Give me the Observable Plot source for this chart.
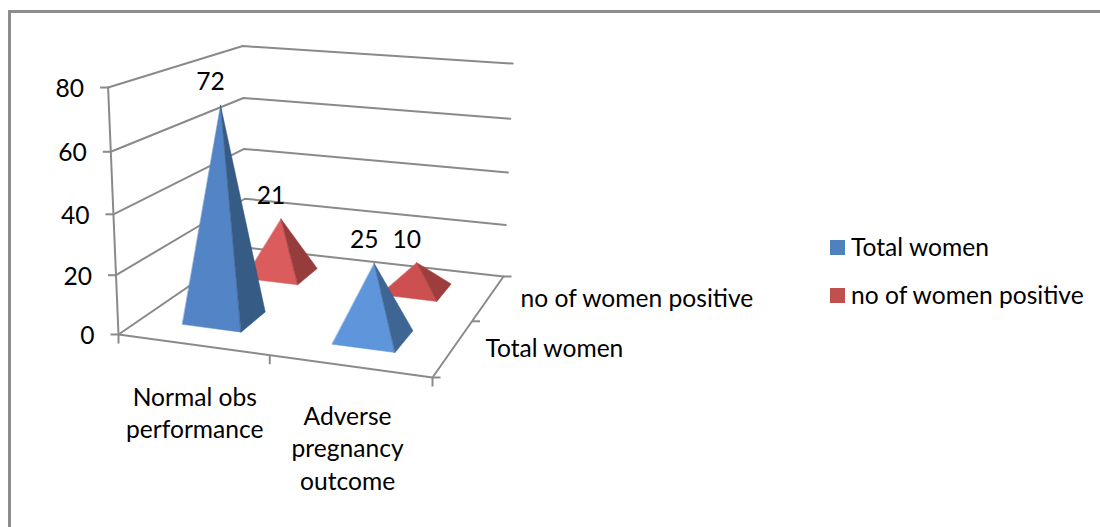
<!DOCTYPE html>
<html>
<head>
<meta charset="utf-8">
<script src="https://cdn.jsdelivr.net/npm/d3@7"></script>
<script src="https://cdn.jsdelivr.net/npm/@observablehq/plot@0.6"></script>
<style>
  html, body { margin: 0; background: #fff; }
  #chart { position: relative; width: 1100px; height: 527px; overflow: hidden; font-family: Lato, sans-serif; color: #000; }
  #frame { position: absolute; left: 8px; top: 10px; right: -5px; bottom: -5px; border: 3px solid #8c8c8c; }
  #plot { position: absolute; left: 0; top: 0; }
  #legend { position: absolute; left: 830px; top: 223px; font-size: 24.6px; line-height: 48px; }
  #legend div { display: flex; align-items: center; white-space: nowrap; }
  #legend i { width: 15px; height: 15px; margin-right: 6px; display: block; }
</style>
</head>
<body>
<div id="chart">
  <div id="frame"></div>
  <div id="plot"></div>
  <div id="legend"></div>
</div>
<script>
// Values
const categories = ["Normal obs performance", "Adverse pregnancy outcome"];
const categoryLines = [["Normal obs", "performance"], ["Adverse", "pregnancy", "outcome"]];
const seriesNames = ["Total women", "no of women positive"];
const totalWomen = [72, 25];
const womenPositive = [21, 10];
const valueTicks = [0, 20, 40, 60, 80];
const valueMax = 80;

// Styling
const gridColor = "#8a8a8a";
const legendColors = ["#4F81BD", "#C0504D"];
const frontFaces = [["#5384C5", "#5F95DA"], ["#DA5C5C", "#CD5050"]];
const sideFaces = [["#365B85", "#3E6594"], ["#963C3C", "#9E3E3C"]];
const labelSize = 24.6;

// Camera: floor corners in plot units and the lift applied per full axis height
const floorCorners = [[118, 334], [432, 377], [503, 276], [245, 247]];
const lift = [-16, -251.5, -0.052];
const baseHalf = 0.2;
const baseCenter = 0.488;

const [[x0, y0], [x1, y1], [x2, y2], [x3, y3]] = floorCorners;
const den = (x1 - x2) * (y3 - y2) - (x3 - x2) * (y1 - y2);
const sx = x0 - x1 + x2 - x3, sy = y0 - y1 + y2 - y3;
const g = (sx * (y3 - y2) - (x3 - x2) * sy) / den;
const h = ((x1 - x2) * sy - sx * (y1 - y2)) / den;

// Perspective projection of (category position, series position, value)
function project(u, v, value) {
  const s = u / categories.length, t = v / seriesNames.length, q = value / valueMax;
  const X = (x1 - x0 + g * x1) * s + (x3 - x0 + h * x3) * t + x0;
  const Y = (y1 - y0 + g * y1) * s + (y3 - y0 + h * y3) * t + y0;
  const W = g * s + h * t + 1;
  return [(X + lift[0] * q) / (W + lift[2] * q), (Y + lift[1] * q) / (W + lift[2] * q)];
}

// Walls and floor
const grid = [];
valueTicks.forEach(tick => {
  [[0, 0], [0, 2], [2, 2]].forEach(([u, v]) => {
    const [x, y] = project(u, v, tick);
    grid.push({id: "grid" + tick, x, y});
  });
});
[[0, 0], [2, 0], [2, 2]].forEach(([u, v]) => {
  const [x, y] = project(u, v, 0);
  grid.push({id: "floor", x, y});
});
[0, valueMax].forEach(val => {
  const [x, y] = project(0, 0, val);
  grid.push({id: "valueAxis", x, y});
});

// Short tick marks, offset from their anchors along screen axes
const ticks = [];
valueTicks.forEach(tick => {
  const [x, y] = project(0, 0, tick);
  ticks.push({x1: x - 8, y1: y, x2: x, y2: y});
});
[0, 1, 2].forEach(u => {
  const [x, y] = project(u, 0, 0);
  ticks.push({x1: x, y1: y, x2: x, y2: y + 9});
});
[0, 1, 2].forEach(v => {
  const [x, y] = project(2, v, 0);
  ticks.push({x1: x, y1: y, x2: x + 8, y2: y});
});

// Pyramids, far row first so nearer ones overlap it
const faces = [];
const tops = [];
[womenPositive, totalWomen].forEach((values, row) => {
  const si = 1 - row;
  values.forEach((value, ci) => {
    const u = ci + baseCenter, v = si + 0.5;
    const fl = project(u - baseHalf, v - baseHalf, 0);
    const fr = project(u + baseHalf, v - baseHalf, 0);
    const br = project(u + baseHalf, v + baseHalf, 0);
    const apex = project(u, v, value);
    [[frontFaces[si][ci], [fl, fr, apex]], [sideFaces[si][ci], [fr, br, apex]]].forEach(([color, pts], fi) => {
      pts.forEach(([x, y]) => faces.push({id: `${si}-${ci}-${fi}`, x, y, color}));
    });
    tops.push({x: apex[0], y: apex[1], value});
  });
});

// Text
const valueLabels = valueTicks.map(tick => {
  const [x, y] = project(0, 0, tick);
  return {x: x - 24, y: y + 1.5, text: String(tick)};
});
const categoryLabels = [];
const categoryNudge = [[2, 1.5], [-2, -0.5]];
categoryLines.forEach((lines, ci) => {
  const [x, y] = project(ci + 0.5, 0, 0);
  lines.forEach((line, li) => categoryLabels.push({x: x + categoryNudge[ci][0], y: y + 51.5 + categoryNudge[ci][1] + li * 32.3, text: line}));
});
const seriesLabels = seriesNames.map((name, si) => {
  const [x, y] = project(2, si + 0.5, 0);
  return {x: x + 32, y: y + 1.5, text: name};
});

const chart = Plot.plot({
  width: 1100,
  height: 527,
  margin: 0,
  x: {domain: [0, 1100], range: [0, 1100], axis: null},
  y: {domain: [0, 527], range: [0, 527], axis: null},
  color: {type: "identity"},
  style: {background: "transparent", fontFamily: "Lato, sans-serif", overflow: "visible"},
  marks: [
    Plot.line(grid, {x: "x", y: "y", z: "id", stroke: gridColor, strokeWidth: 2}),
    Plot.link(ticks, {x1: "x1", y1: "y1", x2: "x2", y2: "y2", stroke: gridColor, strokeWidth: 2}),
    Plot.line(faces, {x: "x", y: "y", z: "id", fill: "color", stroke: "color", strokeWidth: 0.5, curve: "linear-closed"}),
    Plot.text(tops, {x: "x", y: "y", text: "value", dx: -10, dy: -23, fontSize: labelSize, fill: "#000"}),
    Plot.text(valueLabels, {x: "x", y: "y", text: "text", textAnchor: "end", fontSize: labelSize, fill: "#000"}),
    Plot.text(categoryLabels, {x: "x", y: "y", text: "text", fontSize: labelSize, fill: "#000"}),
    Plot.text(seriesLabels, {x: "x", y: "y", text: "text", textAnchor: "start", fontSize: labelSize, fill: "#000"})
  ]
});
document.getElementById("plot").appendChild(chart);

d3.select("#legend").selectAll("div").data(seriesNames).join("div")
  .call(row => row.append("i").style("background", (d, i) => legendColors[i]))
  .call(row => row.append("span").text(d => d));
</script>
</body>
</html>
